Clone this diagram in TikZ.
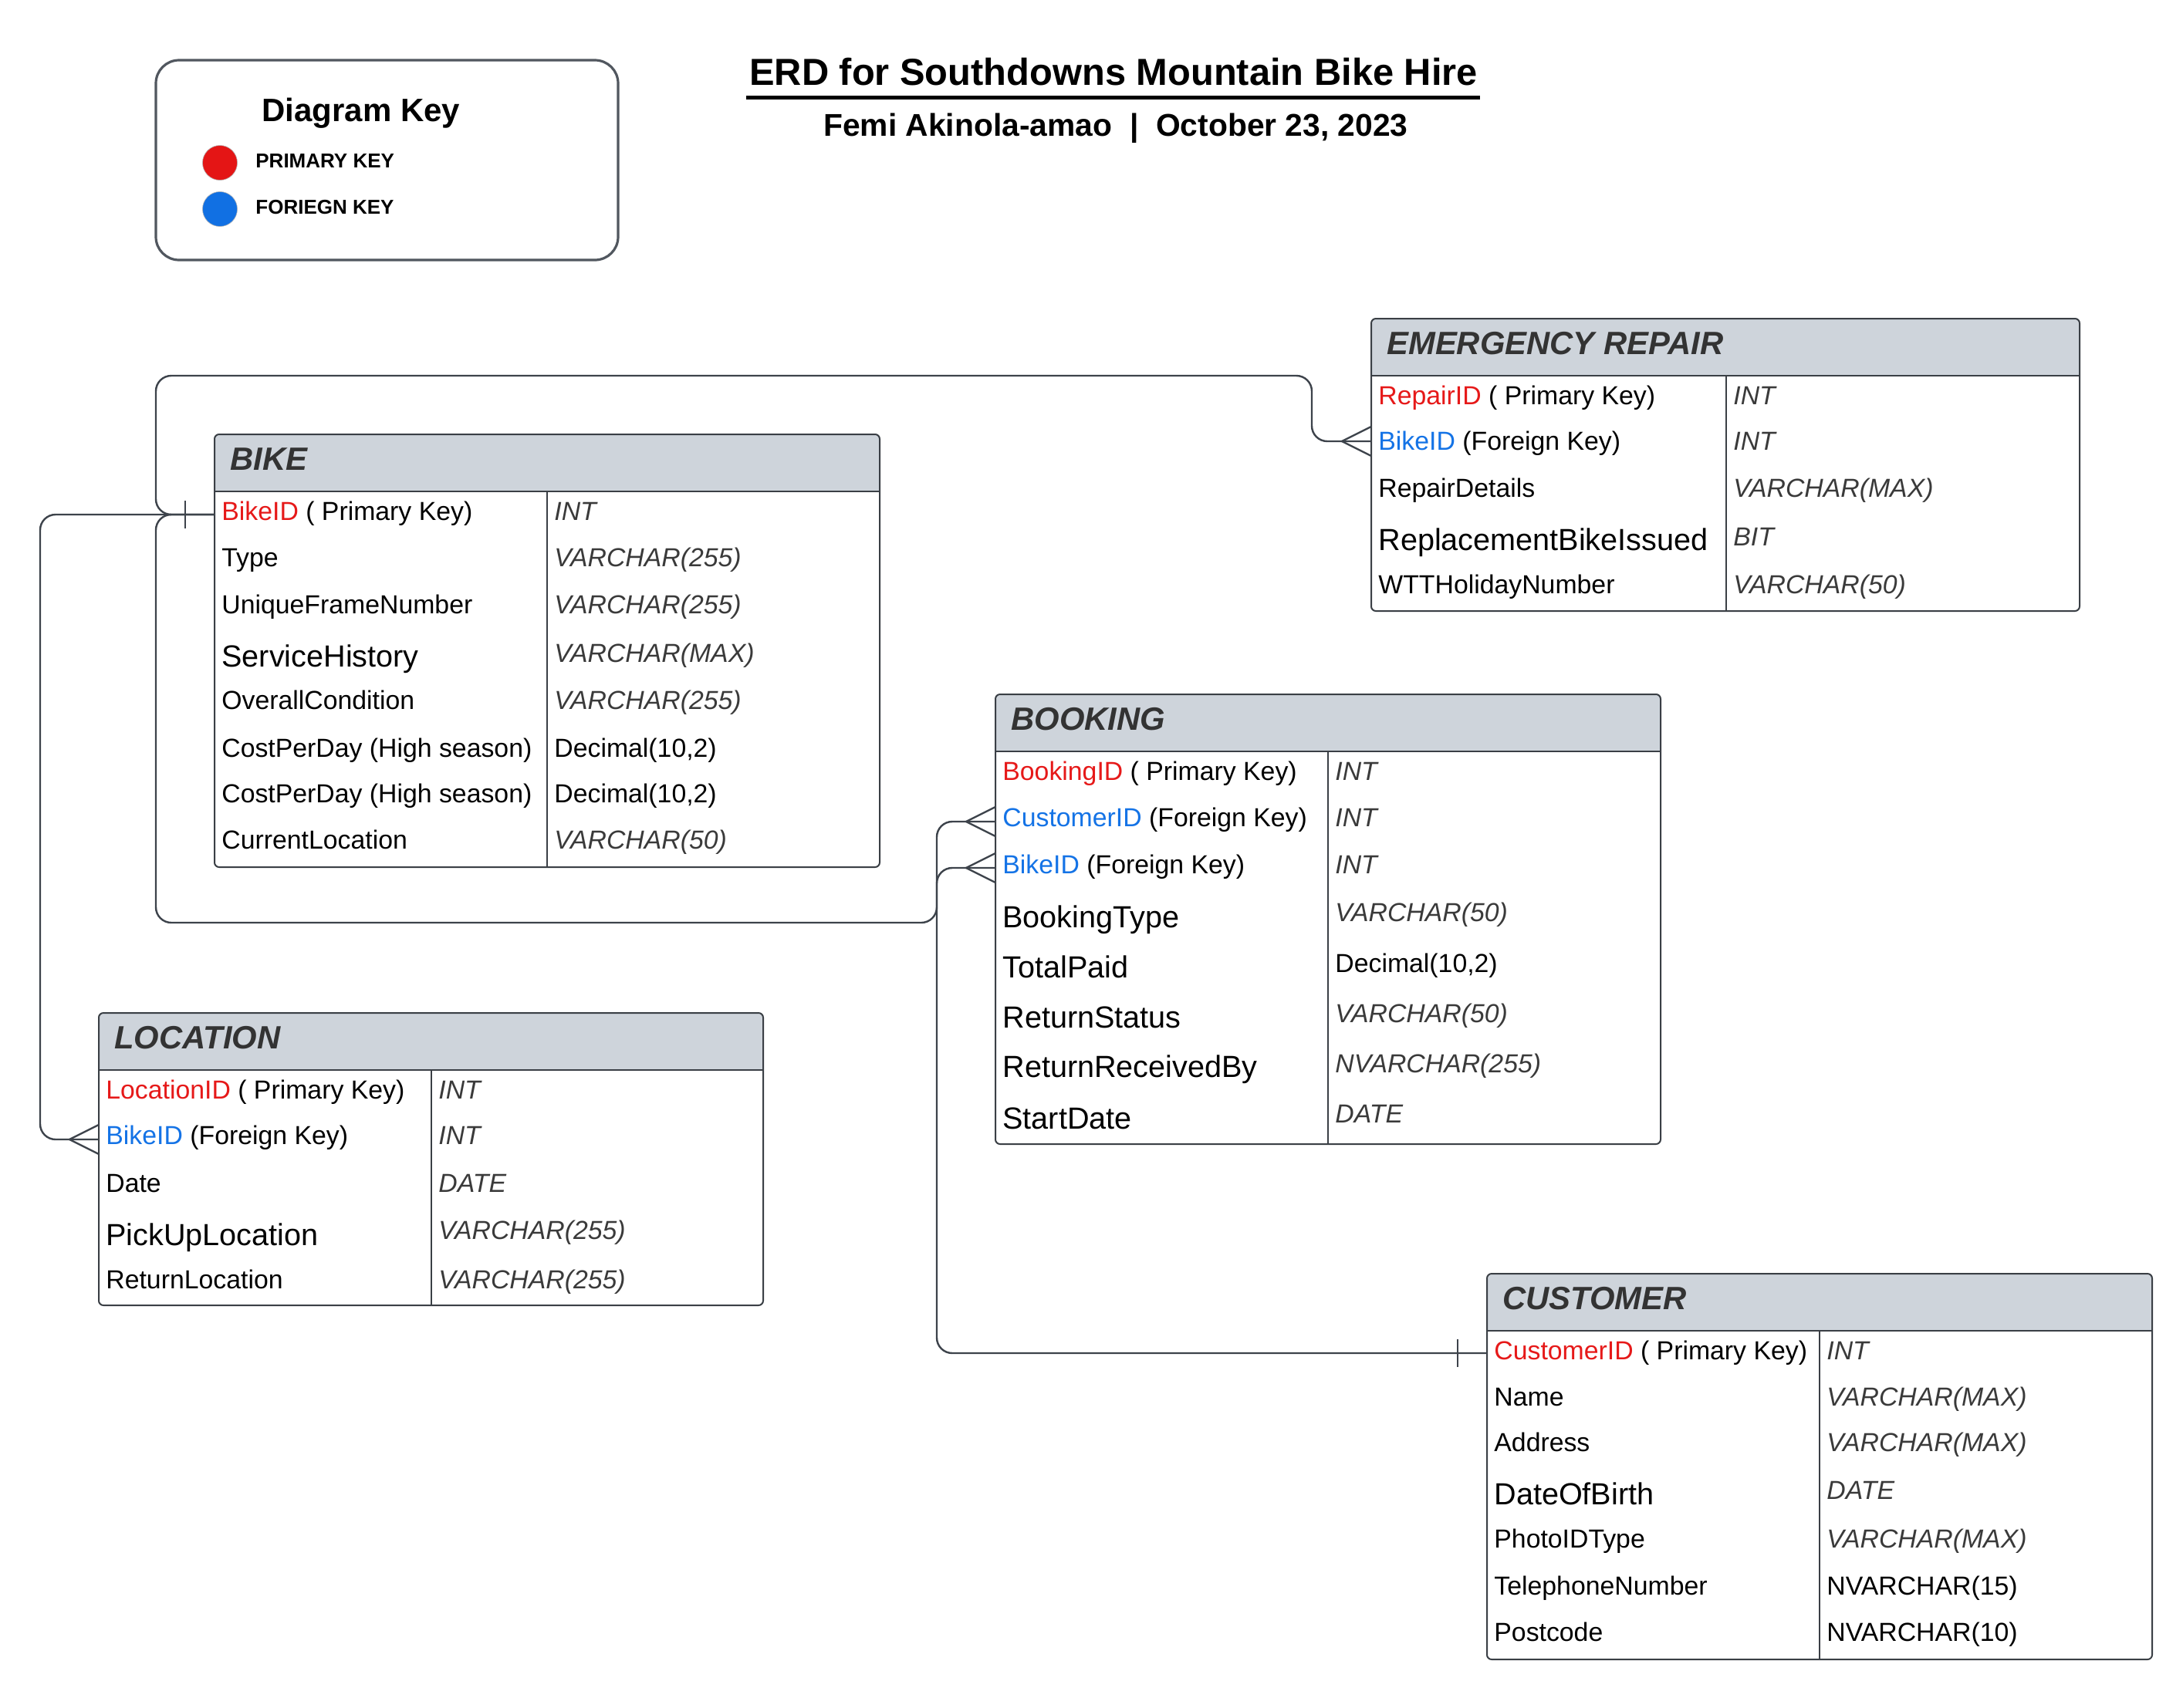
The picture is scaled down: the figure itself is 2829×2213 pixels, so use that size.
\documentclass[tikz,border=0pt]{standalone}
\usepackage{fontspec}
\setmainfont{Liberation Sans}
\usetikzlibrary{fit,calc}
\definecolor{pkred}{HTML}{E61919}
\definecolor{fkblue}{HTML}{1473E6}
\definecolor{dotred}{HTML}{E41515}
\definecolor{dotblue}{HTML}{1170E3}
\definecolor{typegray}{HTML}{3A3A3A}
\definecolor{hdrtext}{HTML}{333333}
\definecolor{hdrfill}{HTML}{CED4DB}
\definecolor{linecol}{HTML}{3D434B}
\definecolor{bordercol}{HTML}{3A3F45}
\definecolor{keyborder}{HTML}{51575F}
\newcommand{\erdbox}[8]{%
  \fill[hdrfill, rounded corners=3pt] (#2,#3) rectangle (#6,{#4-20});
  \fill[hdrfill] (#2,{#3+20}) rectangle (#6,#4);
  \node[tbl, fit={(#2,#3)(#6,#7)}] (#1) {};
  \draw[tline] (#2,#4) -- (#6,#4) (#5,#4) -- (#5,#7);
  \node[hdr] (#1-title) at ({#2+20},{#3+32}) {#8};
}
\newcommand{\pk}[1]{\textcolor{pkred}{#1}}
\newcommand{\fk}[1]{\textcolor{fkblue}{#1}}
\begin{document}
\begin{tikzpicture}[x=0.5pt,y=-0.5pt,
  nm/.style={anchor=base west, inner sep=0pt, font=\fontsize{16.9}{20}\selectfont},
  nmL/.style={anchor=base west, inner sep=0pt, font=\fontsize{19.8}{24}\selectfont},
  ty/.style={anchor=base west, inner sep=0pt, text=typegray, font=\fontsize{16.9}{20}\selectfont\itshape},
  typlain/.style={anchor=base west, inner sep=0pt, font=\fontsize{16.9}{20}\selectfont},
  hdr/.style={anchor=west, inner sep=0pt, text=hdrtext, font=\fontsize{20.9}{25}\selectfont\bfseries\itshape},
  tbl/.style={draw=bordercol, line width=1pt, rounded corners=3pt, inner sep=0pt},
  tline/.style={draw=bordercol, line width=1pt},
  conn/.style={draw=linecol, line width=1.2pt, rounded corners=10pt},
  crow/.style={draw=linecol, line width=1.2pt},
]
\useasboundingbox[fill=white] (0,0) rectangle (2829,2213);

% ---------- title ----------
\node[anchor=base, inner sep=0pt, font=\fontsize{24.4}{29}\selectfont\bfseries] (title) at (1443,110) {ERD for Southdowns Mountain Bike Hire};
\draw[line width=2.5pt] (967,126) -- (1918,126);
\node[anchor=base, inner sep=0pt, font=\fontsize{20.4}{25}\selectfont\bfseries] (subtitle) at (1446,176) {Femi Akinola-amao\ \ |\ \ October 23, 2023};

% ---------- key ----------
\node[draw=keyborder, line width=1.6pt, rounded corners=15pt, inner sep=0pt, fit={(202,78)(801,337)}] (key) {};
\node[anchor=base, inner sep=0pt, font=\fontsize{21}{25}\selectfont\bfseries] (keytitle) at (468,157) {Diagram Key};
\node[circle, fill=dotred, draw=gray!60, line width=0.3pt, minimum size=22.5pt, inner sep=0pt] (pkdot) at (285,211) {};
\node[circle, fill=dotblue, draw=gray!60, line width=0.3pt, minimum size=22.5pt, inner sep=0pt] (fkdot) at (285,271) {};
\node[anchor=base west, inner sep=0pt, font=\fontsize{13}{15}\selectfont\bfseries] (pklabel) at (331,217) {PRIMARY KEY};
\node[anchor=base west, inner sep=0pt, font=\fontsize{13}{15}\selectfont\bfseries] (fklabel) at (331,277) {FORIEGN KEY};

% ---------- BIKE ----------
\erdbox{bike}{278}{563}{637}{709}{1140}{1124}{BIKE}
\node[nm] (bike-n1) at (287,674) {\pk{BikeID} ( Primary Key)};
\node[ty] (bike-t1) at (718,674) {INT};
\node[nm] (bike-n2) at (287,734) {Type};
\node[ty] (bike-t2) at (718,734) {VARCHAR(255)};
\node[nm] (bike-n3) at (287,795) {UniqueFrameNumber};
\node[ty] (bike-t3) at (718,795) {VARCHAR(255)};
\node[nmL] (bike-n4) at (287,864) {ServiceHistory};
\node[ty] (bike-t4) at (718,858) {VARCHAR(MAX)};
\node[nm] (bike-n5) at (287,919) {OverallCondition};
\node[ty] (bike-t5) at (718,919) {VARCHAR(255)};
\node[nm] (bike-n6) at (287,981) {CostPerDay (High season)};
\node[typlain] (bike-t6) at (718,981) {Decimal(10,2)};
\node[nm] (bike-n7) at (287,1040) {CostPerDay (High season)};
\node[typlain] (bike-t7) at (718,1040) {Decimal(10,2)};
\node[nm] (bike-n8) at (287,1100) {CurrentLocation};
\node[ty] (bike-t8) at (718,1100) {VARCHAR(50)};

% ---------- EMERGENCY REPAIR ----------
\erdbox{er}{1777}{413}{487}{2237}{2695}{792}{EMERGENCY REPAIR}
\node[nm] (er-n1) at (1786,524) {\pk{RepairID} ( Primary Key)};
\node[ty] (er-t1) at (2246,524) {INT};
\node[nm] (er-n2) at (1786,583) {\fk{BikeID} (Foreign Key)};
\node[ty] (er-t2) at (2246,583) {INT};
\node[nm] (er-n3) at (1786,644) {RepairDetails};
\node[ty] (er-t3) at (2246,644) {VARCHAR(MAX)};
\node[nmL] (er-n4) at (1786,713) {ReplacementBikeIssued};
\node[ty] (er-t4) at (2246,707) {BIT};
\node[nm] (er-n5) at (1786,769) {WTTHolidayNumber};
\node[ty] (er-t5) at (2246,769) {VARCHAR(50)};

% ---------- BOOKING ----------
\erdbox{booking}{1290}{900}{974}{1721}{2152}{1483}{BOOKING}
\node[nm] (bk-n1) at (1299,1011) {\pk{BookingID} ( Primary Key)};
\node[ty] (bk-t1) at (1730,1011) {INT};
\node[nm] (bk-n2) at (1299,1071) {\fk{CustomerID} (Foreign Key)};
\node[ty] (bk-t2) at (1730,1071) {INT};
\node[nm] (bk-n3) at (1299,1132) {\fk{BikeID} (Foreign Key)};
\node[ty] (bk-t3) at (1730,1132) {INT};
\node[nmL] (bk-n4) at (1299,1202) {BookingType};
\node[ty] (bk-t4) at (1730,1194) {VARCHAR(50)};
\node[nmL] (bk-n5) at (1299,1267) {TotalPaid};
\node[typlain] (bk-t5) at (1730,1260) {Decimal(10,2)};
\node[nmL] (bk-n6) at (1299,1332) {ReturnStatus};
\node[ty] (bk-t6) at (1730,1325) {VARCHAR(50)};
\node[nmL] (bk-n7) at (1299,1396) {ReturnReceivedBy};
\node[ty] (bk-t7) at (1730,1390) {NVARCHAR(255)};
\node[nmL] (bk-n8) at (1299,1463) {StartDate};
\node[ty] (bk-t8) at (1730,1455) {DATE};

% ---------- LOCATION ----------
\erdbox{location}{128}{1313}{1387}{559}{989}{1692}{LOCATION}
\node[nm] (loc-n1) at (137,1424) {\pk{LocationID} ( Primary Key)};
\node[ty] (loc-t1) at (568,1424) {INT};
\node[nm] (loc-n2) at (137,1483) {\fk{BikeID} (Foreign Key)};
\node[ty] (loc-t2) at (568,1483) {INT};
\node[nm] (loc-n3) at (137,1545) {Date};
\node[ty] (loc-t3) at (568,1545) {DATE};
\node[nmL] (loc-n4) at (137,1614) {PickUpLocation};
\node[ty] (loc-t4) at (568,1606) {VARCHAR(255)};
\node[nm] (loc-n5) at (137,1670) {ReturnLocation};
\node[ty] (loc-t5) at (568,1670) {VARCHAR(255)};

% ---------- CUSTOMER ----------
\erdbox{customer}{1927}{1651}{1725}{2358}{2789}{2151}{CUSTOMER}
\node[nm] (cu-n1) at (1936,1762) {\pk{CustomerID} ( Primary Key)};
\node[ty] (cu-t1) at (2367,1762) {INT};
\node[nm] (cu-n2) at (1936,1822) {Name};
\node[ty] (cu-t2) at (2367,1822) {VARCHAR(MAX)};
\node[nm] (cu-n3) at (1936,1881) {Address};
\node[ty] (cu-t3) at (2367,1881) {VARCHAR(MAX)};
\node[nmL] (cu-n4) at (1936,1950) {DateOfBirth};
\node[ty] (cu-t4) at (2367,1943) {DATE};
\node[nm] (cu-n5) at (1936,2006) {PhotoIDType};
\node[ty] (cu-t5) at (2367,2006) {VARCHAR(MAX)};
\node[nm] (cu-n6) at (1936,2067) {TelephoneNumber};
\node[typlain] (cu-t6) at (2367,2067) {NVARCHAR(15)};
\node[nm] (cu-n7) at (1936,2127) {Postcode};
\node[typlain] (cu-t7) at (2367,2127) {NVARCHAR(10)};

% ---------- ports ----------
\coordinate (bike-pk) at (278,667);
\coordinate (er-fk) at (1777,572);
\coordinate (bk-cust) at (1290,1065);
\coordinate (bk-bike) at (1290,1125);
\coordinate (loc-fk) at (128,1477);
\coordinate (cust-pk) at (1927,1754);

% ---------- connectors ----------
\draw[conn] (bike-pk) -- ++(-76,0) |- (1700,487) |- (er-fk);
\draw[conn] (bike-pk) -- ++(-76,0) |- (1214,1196) |- (bk-bike);
\draw[conn] (bike-pk) -| (52,1477) -- (loc-fk);
\draw[conn] (cust-pk) -| (1214,1065) -- (bk-cust);

% one marks
\draw[crow] ($(bike-pk)+(-38,-18)$) -- ($(bike-pk)+(-38,18)$);
\draw[crow] ($(cust-pk)+(-38,-18)$) -- ($(cust-pk)+(-38,18)$);
% crow's feet
\draw[crow] ($(er-fk)+(0,-19)$) -- ($(er-fk)+(-38,0)$) -- ($(er-fk)+(0,19)$);
\draw[crow] ($(bk-cust)+(0,-19)$) -- ($(bk-cust)+(-38,0)$) -- ($(bk-cust)+(0,19)$);
\draw[crow] ($(bk-bike)+(0,-19)$) -- ($(bk-bike)+(-38,0)$) -- ($(bk-bike)+(0,19)$);
\draw[crow] ($(loc-fk)+(0,-19)$) -- ($(loc-fk)+(-38,0)$) -- ($(loc-fk)+(0,19)$);
\end{tikzpicture}
\end{document}
